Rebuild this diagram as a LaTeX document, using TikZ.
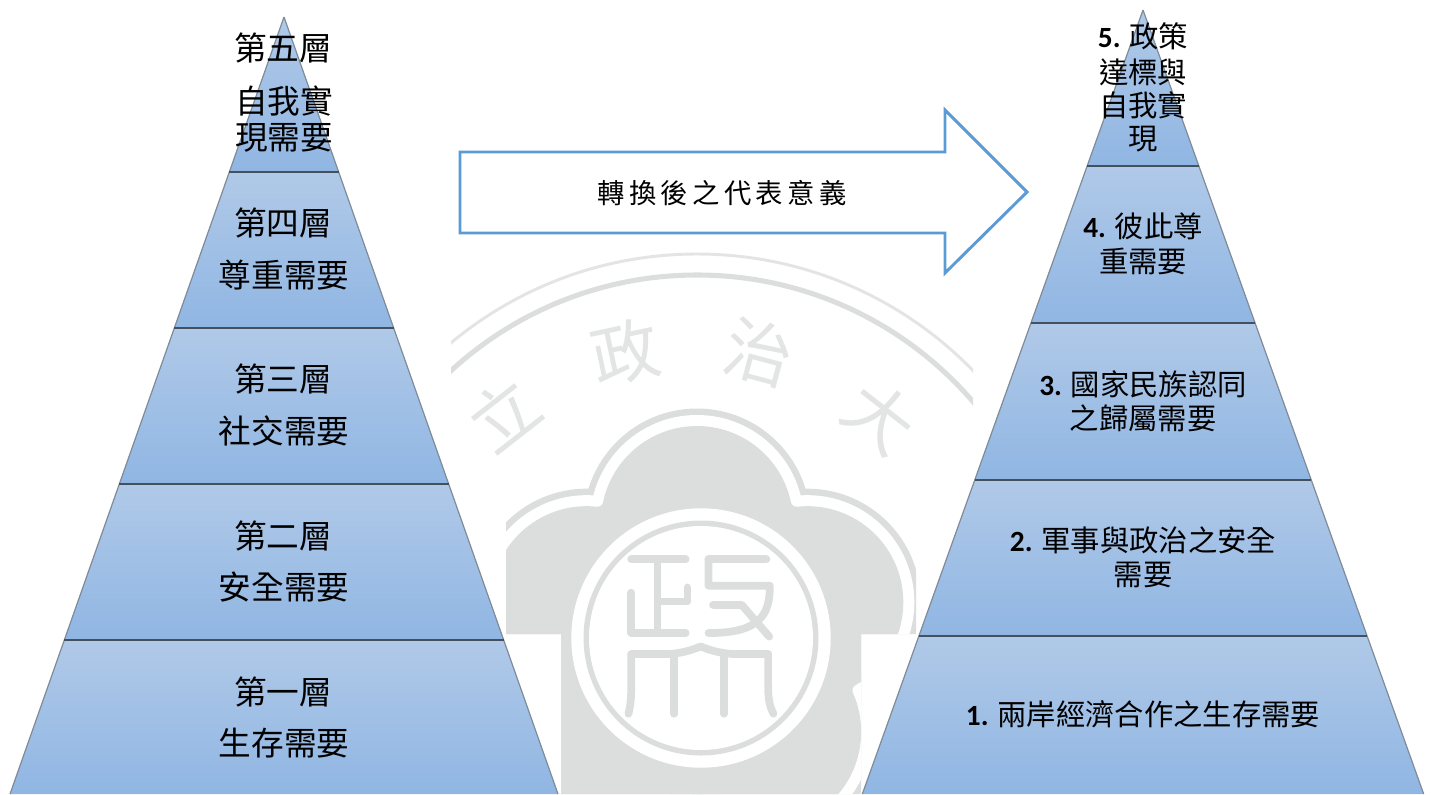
\documentclass[tikz,border=0pt]{standalone}
\usepackage{fontspec}
\usetikzlibrary{calc}
\setmainfont{Noto Sans CJK TC}
\newfontfamily\latinbold[Scale=1]{Carlito}
\newfontfamily\arrowfont[LetterSpace=16]{Noto Sans CJK TC}
\definecolor{wmgray}{HTML}{DCDEDD}
\definecolor{wmline}{HTML}{E3E5E5}
\definecolor{laytop}{HTML}{B0C9E8}
\definecolor{laybot}{HTML}{90B6E3}
\definecolor{layrule}{HTML}{44505E}
\definecolor{layside}{HTML}{7E8B99}
\definecolor{arrowblue}{HTML}{5B9BD5}
\tikzset{
  leftlabel/.style={inner sep=0pt,font=\fontsize{24.5pt}{24.5pt}\selectfont,text=black},
  rightlabel/.style={inner sep=0pt,font=\fontsize{22pt}{22pt}\selectfont,text=black},
  wmchar/.style={inner sep=0pt,text=wmline,font=\fontsize{51pt}{51pt}\selectfont},
  seal/.style={draw=wmgray,line width=5.8pt,line cap=round,line join=round},
  laystyle/.style={top color=laytop,bottom color=laybot,draw=none},
  arrowshape/.style={draw=arrowblue,line width=2.2pt,fill=white,line join=miter},
}
\newcommand{\layer}[5]{% cx, apex y, slope, y1, y2
  \pgfmathsetmacro{\wa}{(#4-#2)*#3}
  \pgfmathsetmacro{\wb}{(#5-#2)*#3}
  \shade[laystyle] ({#1-\wa},#4) -- ({#1+\wa},#4) -- ({#1+\wb},#5) -- ({#1-\wb},#5) -- cycle;
  \draw[layside,line width=0.9pt] ({#1-\wa},#4) -- ({#1-\wb},#5);
  \draw[layside,line width=0.9pt] ({#1+\wa},#4) -- ({#1+\wb},#5);
}
\newcommand{\layrule}[4]{% cx, apex y, slope, y
  \pgfmathsetmacro{\wa}{(#4-#2)*#3}
  \draw[layrule,line width=1.1pt] ({#1-\wa},#4) -- ({#1+\wa},#4);
}
\begin{document}
\begin{tikzpicture}[x=0.75pt,y=-0.75pt]
\useasboundingbox (0,0) rectangle (1432,794);
\fill[white] (0,0) rectangle (1432,794);

% watermark
\begin{scope}
\clip (451,240) rectangle (973,470) (506,470) rectangle (916,634) (561,634) rectangle (861,794);
\coordinate (F) at (697,638);
\coordinate (D) at (701,638);
\draw[wmline,line width=2.2pt] (697,639) circle [radius=385];
\draw[wmgray,line width=3.8pt] (697,639) circle [radius=364];
\node[wmchar,rotate=38] (wm1) at (503,414) {立};
\node[wmchar,rotate=12] (wm2) at (625,352) {政};
\node[wmchar,rotate=-15] (wm3) at (759,352) {治};
\node[wmchar,rotate=-38] (wm4) at (880,417) {大};
\foreach \a in {90,162,234,306,18} \fill[wmgray] (F) ++(-\a:116) circle [radius=113.5];
\foreach \a in {90,162,234,306,18} \fill[white] (F) ++(-\a:116) circle [radius=107];
\foreach \a in {90,162,234,306,18} \fill[wmgray] (F) ++(-\a:116) circle [radius=96];
\foreach \a in {54,126,198,342} {
  \path (F) ++(-\a:169.8) coordinate (W);
  \path (F) ++({-(\a-36)}:116) coordinate (P1);
  \path (F) ++({-(\a+36)}:116) coordinate (P2);
  \fill[wmgray] (P1) -- ($(P1)!0.9412!(W)$) -- (W) -- ($(P2)!0.9412!(W)$) -- (P2) -- cycle;
  \fill[white] (W) circle [radius=6];
}
\fill[white] (D) circle [radius=129.7];
\fill[wmgray] (D) circle [radius=117.5];
\fill[white] (D) circle [radius=112];
\begin{scope}[shift={(440,240)},x=0.2632pt,y=-0.2632pt]
  \draw[seal] (545,910) -- (700,910);
  \draw[seal] (620,910) -- (620,1120);
  \draw[seal] (545,1005) -- (545,1120) -- (700,1120);
  \draw[seal] (705,990) -- (705,1030) -- (630,1030);
  \draw[seal] (765,910) -- (930,910);
  \draw[seal] (765,910) -- (765,985) -- (940,985) .. controls (940,1070) and (910,1120) .. (765,1120);
  \draw[seal] (778,1040) -- (860,1040) -- (938,1130);
  \draw[seal] (545,1180) -- (640,1180) .. controls (680,1180) and (715,1170) .. (743,1158) .. controls (771,1170) and (805,1180) .. (850,1180) -- (935,1180);
  \draw[seal] (545,1180) -- (545,1270) .. controls (545,1310) and (542,1330) .. (537,1350);
  \draw[seal] (667,1180) -- (667,1350);
  \draw[seal] (810,1180) -- (810,1350);
  \draw[seal] (935,1180) -- (935,1270) .. controls (935,1310) and (940,1330) .. (950,1350);
\end{scope}
\end{scope}

% left pyramid
\layer{284}{17}{0.3526}{17}{172}
\layer{284}{17}{0.3526}{172}{328}
\layer{284}{17}{0.3526}{328}{484}
\layer{284}{17}{0.3526}{484}{640}
\layer{284}{17}{0.3526}{640}{794}
\foreach \y in {172,328,484,640} {\layrule{284}{17}{0.3526}{\y}}

% right pyramid
\layer{1143}{10}{0.358}{10}{166}
\layer{1143}{10}{0.358}{166}{323}
\layer{1143}{10}{0.358}{323}{480}
\layer{1143}{10}{0.358}{480}{636}
\layer{1143}{10}{0.358}{636}{794}
\foreach \y in {166,323,480,636} {\layrule{1143}{10}{0.358}{\y}}

% arrow
\draw[arrowshape] (460,152) -- (945,152) -- (945,110) -- (1027,192) -- (945,273) -- (945,233) -- (460,233) -- cycle;
\node[inner sep=0pt,font=\arrowfont\fontsize{20.5pt}{20.5pt}\selectfont] (arrowlabel) at (722,193) {轉換後之代表意義};

% left labels
\node[leftlabel] (l5a) at (283,48) {第五層};
\node[leftlabel] (l5b) at (284,101) {自我實};
\node[leftlabel] (l5c) at (284,138) {現需要};
\node[leftlabel] (l4a) at (283,223) {第四層};
\node[leftlabel] (l4b) at (284,275) {尊重需要};
\node[leftlabel] (l3a) at (283,379) {第三層};
\node[leftlabel] (l3b) at (284,431) {社交需要};
\node[leftlabel] (l2a) at (283,536) {第二層};
\node[leftlabel] (l2b) at (284,587) {安全需要};
\node[leftlabel] (l1a) at (283,692) {第一層};
\node[leftlabel] (l1b) at (284,743) {生存需要};

% right labels
\node[rightlabel] (r5a) at (1143,36) {{\latinbold\bfseries 5.} 政策};
\node[rightlabel] (r5b) at (1143,72) {達標與};
\node[rightlabel] (r5c) at (1143,105) {自我實};
\node[rightlabel] (r5d) at (1143,139) {現};
\node[rightlabel] (r4a) at (1143,226) {{\latinbold\bfseries 4.} 彼此尊};
\node[rightlabel] (r4b) at (1143,261) {重需要};
\node[rightlabel] (r3a) at (1143,384) {{\latinbold\bfseries 3.} 國家民族認同};
\node[rightlabel] (r3b) at (1143,418) {之歸屬需要};
\node[rightlabel] (r2a) at (1143,540) {{\latinbold\bfseries 2.} 軍事與政治之安全};
\node[rightlabel] (r2b) at (1143,575) {需要};
\node[rightlabel] (r1a) at (1143,714) {{\latinbold\bfseries 1.} 兩岸經濟合作之生存需要};
\end{tikzpicture}
\end{document}
